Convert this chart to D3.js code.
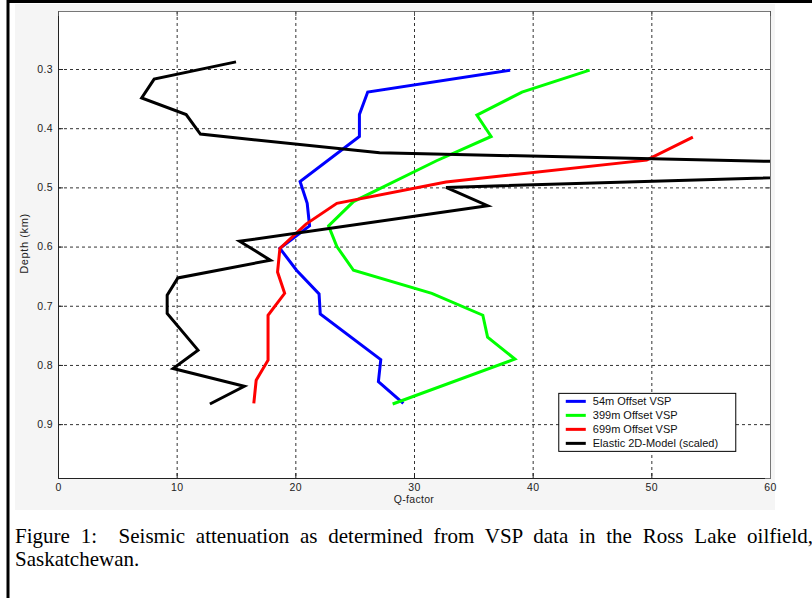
<!DOCTYPE html>
<html>
<head>
<meta charset="utf-8">
<script src="https://cdn.jsdelivr.net/npm/d3@7"></script>
<style>
  body { margin: 0; background: #fff; overflow: hidden; }
  #figure { position: relative; width: 812px; height: 598px; }
  #figure svg { position: absolute; left: 0; top: 0; }
  .caption {
    position: absolute; left: 15px; top: 525px; width: 798px;
    font-family: "Liberation Serif", "Times New Roman", serif;
    font-size: 21px; line-height: 23px; text-align: justify; color: #000;
  }
  .tick text { font-family: "Liberation Sans", Arial, sans-serif; fill: #222; letter-spacing: 0.4px; }
</style>
</head>
<body>
<div id="figure">
  <div class="caption">Figure 1:&nbsp; Seismic attenuation as determined from VSP data in the Ross Lake oilfield, Saskatchewan.</div>
</div>
<script>
// Daten
const depth54 = [0.302, 0.339, 0.377, 0.414, 0.490, 0.527, 0.565, 0.603, 0.640, 0.680, 0.714, 0.791, 0.828, 0.865]
const q54 = [38.1, 26.1, 25.4, 25.4, 20.4, 21.0, 21.2, 18.7, 20.1, 22.0, 22.1, 27.2, 27.0, 29.1]

const depth399 = [0.302, 0.339, 0.378, 0.414, 0.455, 0.524, 0.565, 0.600, 0.640, 0.679, 0.716, 0.753, 0.790, 0.866]
const q399 = [44.8, 39.1, 35.3, 36.5, 31.9, 24.9, 22.8, 23.5, 24.9, 31.5, 35.8, 36.2, 38.5, 28.2]

const depth699 = [0.415, 0.454, 0.491, 0.527, 0.562, 0.603, 0.643, 0.679, 0.716, 0.792, 0.826, 0.865]
const q699 = [53.5, 49.6, 32.7, 23.5, 20.9, 18.7, 18.5, 19.1, 17.7, 17.7, 16.7, 16.5]

const depthModel = [0.288, 0.317, 0.349, 0.377, 0.410, 0.4415, 0.468, 0.500, 0.531, 0.591, 0.623, 0.653, 0.682, 0.713, 0.775, 0.806, 0.836, 0.866]
const qModel = [15.0, 8.1, 7.05, 10.8, 12.0, 27.1, 87, 32.7, 36.2, 15.3, 17.9, 10.1, 9.2, 9.2, 11.8, 9.7, 15.7, 12.8]

const seriesNames = ["54m Offset VSP", "399m Offset VSP", "699m Offset VSP", "Elastic 2D-Model (scaled)"]
const seriesColors = ["#0000ff", "#00ff00", "#ff0000", "#000000"]

const xTicks = [0, 10, 20, 30, 40, 50, 60]
const yTicks = [0.3, 0.4, 0.5, 0.6, 0.7, 0.8, 0.9]

// Ränder für das Diagramm
const margin = { top: 11, right: 42, bottom: 120, left: 58 }
const width = 812 - margin.left - margin.right
const height = 598 - margin.top - margin.bottom

const svg = d3.select("#figure").append("svg")
  .attr("width", 812)
  .attr("height", 598)

// Rahmen und grauer Hintergrund der Abbildung
svg.append("rect")
  .attr("x", 15).attr("y", 4).attr("width", 760).attr("height", 506)
  .attr("fill", "#f5f5f5")

svg.append("path")
  .attr("d", "M8,598 V1.5 H812")
  .attr("fill", "none")
  .attr("stroke", "#000")
  .attr("stroke-width", 3)

const g = svg.append("g")
  .attr("transform", "translate(" + margin.left + "," + margin.top + ")")

g.append("rect")
  .attr("width", width).attr("height", height)
  .attr("fill", "#fff")

// Skalen
const x = d3.scaleLinear().domain([0, 60]).range([0, width])
const y = d3.scaleLinear().domain([0.202, 0.991]).range([0, height])

// Gitterlinien
g.append("g")
  .attr("class", "grid")
  .call(d3.axisBottom(x).tickValues(xTicks.slice(1, -1)).tickSize(height).tickFormat(""))
  .call(g => g.select(".domain").remove())
  .selectAll("line")
  .attr("stroke", "#333")
  .attr("stroke-dasharray", "3,3")

g.append("g")
  .attr("class", "grid")
  .call(d3.axisRight(y).tickValues(yTicks).tickSize(width).tickFormat(""))
  .call(g => g.select(".domain").remove())
  .selectAll("line")
  .attr("stroke", "#333")
  .attr("stroke-dasharray", "3,3")

// Linien
const clip = svg.append("clipPath").attr("id", "plot-clip")
clip.append("rect").attr("width", width).attr("height", height)

const line = d3.line()
  .x(d => x(d[0]))
  .y(d => y(d[1]))

const series = [
  d3.zip(q54, depth54),
  d3.zip(q399, depth399),
  d3.zip(q699, depth699),
  d3.zip(qModel, depthModel)
]

g.append("g")
  .attr("clip-path", "url(#plot-clip)")
  .selectAll("path")
  .data(series)
  .enter().append("path")
  .attr("d", line)
  .attr("fill", "none")
  .attr("stroke", (d, i) => seriesColors[i])
  .attr("stroke-width", 3)
  .attr("stroke-linejoin", "miter")

// Achsen
g.append("g")
  .attr("transform", "translate(0," + height + ")")
  .call(d3.axisBottom(x).tickValues(xTicks).tickSize(-5).tickPadding(6))
  .call(a => a.selectAll("text").style("font-size", "10.5px"))
  .call(a => a.select(".domain").attr("stroke", "#222"))
  .call(a => a.selectAll("line").attr("stroke", "#222"))

g.append("g")
  .call(d3.axisLeft(y).tickValues(yTicks).tickSize(-5).tickPadding(5).tickFormat(d3.format(".1f")))
  .call(a => a.selectAll("text").style("font-size", "10.5px"))
  .call(a => a.select(".domain").attr("stroke", "#222"))
  .call(a => a.selectAll("line").attr("stroke", "#222"))

g.append("g")
  .attr("transform", "translate(" + width + ",0)")
  .call(d3.axisRight(y).tickValues(yTicks).tickSize(-5).tickFormat(""))
  .call(a => a.select(".domain").attr("stroke", "#777"))
  .call(a => a.selectAll("line").attr("stroke", "#555"))

g.append("g")
  .call(d3.axisTop(x).tickValues(xTicks).tickSize(-5).tickFormat(""))
  .call(a => a.select(".domain").attr("stroke", "#777"))
  .call(a => a.selectAll("line").attr("stroke", "#555"))

// Achsenbeschriftungen
g.append("text")
  .attr("x", width / 2)
  .attr("y", height + 25)
  .attr("text-anchor", "middle")
  .style("font-family", "Liberation Sans, Arial, sans-serif")
  .style("font-size", "10.5px")
  .style("letter-spacing", "0.3px")
  .attr("fill", "#222")
  .text("Q-factor")

g.append("text")
  .attr("transform", "translate(-30," + (height / 2 - 1) + ") rotate(-90)")
  .attr("text-anchor", "middle")
  .style("font-family", "Liberation Sans, Arial, sans-serif")
  .style("font-size", "11px")
  .style("letter-spacing", "0.6px")
  .attr("fill", "#222")
  .text("Depth (km)")

// Legende
const legend = g.append("g")
  .attr("transform", "translate(" + (x(42.2)) + "," + (y(0.848)) + ")")

legend.append("rect")
  .attr("width", 177).attr("height", 58)
  .attr("fill", "#fff")
  .attr("stroke", "#000")

const entry = legend.selectAll(".entry")
  .data(seriesNames)
  .enter().append("g")
  .attr("transform", (d, i) => "translate(0," + (8 + i * 14) + ")")

entry.append("line")
  .attr("x1", 7).attr("x2", 27)
  .attr("stroke", (d, i) => seriesColors[i])
  .attr("stroke-width", 3)

entry.append("text")
  .attr("x", 34)
  .attr("dy", "0.36em")
  .style("font-family", "Liberation Sans, Arial, sans-serif")
  .style("font-size", "11px")
  .attr("fill", "#111")
  .text(d => d)
</script>
</body>
</html>
